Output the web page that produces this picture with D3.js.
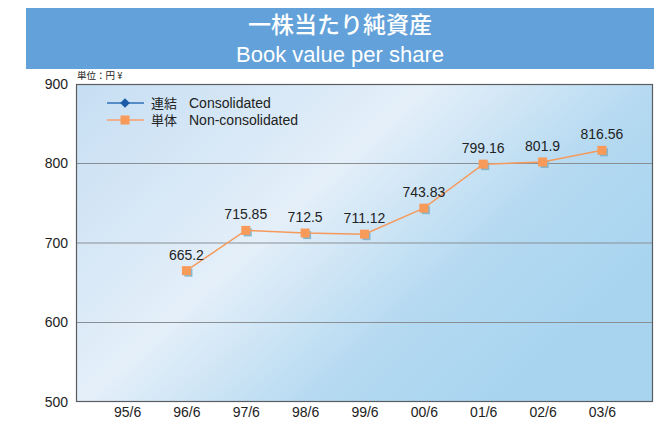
<!DOCTYPE html>
<html lang="ja">
<head>
  <meta charset="UTF-8">
  <title>Book value per share</title>
  <script src="https://cdn.jsdelivr.net/npm/d3@7"></script>
  <style>
    html, body { margin: 0; padding: 0; background: #fff; }
    svg text { font-family: "Liberation Sans", Arial, sans-serif; }
    .jp { font-family: "Noto Sans CJK JP", "Noto Sans", sans-serif; }
  </style>
</head>
<body>
<svg id="chart" width="658" height="422"></svg>
<script>
  // Fiscal years (June) and book value per share (yen)
  const years = ['95/6', '96/6', '97/6', '98/6', '99/6', '00/6', '01/6', '02/6', '03/6'];
  const nonConsolidated = [null, 665.2, 715.85, 712.5, 711.12, 743.83, 799.16, 801.9, 816.56];
  const valueLabels = ['', '665.2', '715.85', '712.5', '711.12', '743.83', '799.16', '801.9', '816.56'];
  const yTicks = [500, 600, 700, 800, 900];

  (() => {
  const svg = d3.select('#chart');
  const plotLeft = 76, plotRight = 653, plotTop = 84, plotBottom = 402;

  // Header band
  svg.append('rect')
    .attr('x', 26).attr('y', 8).attr('width', 628).attr('height', 61)
    .attr('fill', '#62a1d9');
  svg.append('text').attr('class', 'jp')
    .attr('x', 340).attr('y', 33)
    .attr('text-anchor', 'middle').attr('fill', '#fff')
    .attr('font-size', 23).attr('font-weight', 500)
    .text('一株当たり純資産');
  svg.append('text')
    .attr('x', 340).attr('y', 62)
    .attr('text-anchor', 'middle').attr('fill', '#fff')
    .attr('font-size', 22)
    .text('Book value per share');

  // Plot background gradient
  const defs = svg.append('defs');
  const grad = defs.append('linearGradient')
    .attr('id', 'bg')
    .attr('x1', '0%').attr('y1', '0%').attr('x2', '100%').attr('y2', '60%');
  grad.append('stop').attr('offset', '0%').attr('stop-color', '#c6def3');
  grad.append('stop').attr('offset', '45%').attr('stop-color', '#e4eff9');
  grad.append('stop').attr('offset', '75%').attr('stop-color', '#b4d9f1');
  grad.append('stop').attr('offset', '100%').attr('stop-color', '#a8d4f0');

  svg.append('rect')
    .attr('x', plotLeft).attr('y', plotTop)
    .attr('width', plotRight - plotLeft).attr('height', plotBottom - plotTop)
    .attr('fill', 'url(#bg)');

  const x = d3.scalePoint().domain(years).range([plotLeft, plotRight]).padding(0.86);
  const y = d3.scaleLinear().domain([500, 900]).range([plotBottom, plotTop]);

  // Grid lines
  svg.append('g')
    .selectAll('line')
    .data(yTicks.slice(1, -1))
    .join('line')
      .attr('x1', plotLeft).attr('x2', plotRight)
      .attr('y1', d => y(d)).attr('y2', d => y(d))
      .attr('stroke', '#8a8f94').attr('stroke-width', 1);

  // Frame
  svg.append('rect')
    .attr('x', plotLeft + 0.5).attr('y', plotTop + 0.5)
    .attr('width', plotRight - plotLeft - 1).attr('height', plotBottom - plotTop - 1)
    .attr('fill', 'none').attr('stroke', '#5a5e62').attr('stroke-width', 1.2);

  // Axes
  const yAxis = svg.append('g')
    .attr('transform', `translate(${plotLeft},0)`)
    .call(d3.axisLeft(y).tickValues(yTicks).tickSize(0).tickPadding(8));
  yAxis.select('.domain').remove();
  yAxis.selectAll('text').attr('font-size', 14).attr('fill', '#222')
    .attr('font-family', '"Liberation Sans", Arial, sans-serif');

  const xAxis = svg.append('g')
    .attr('transform', `translate(0,${plotBottom})`)
    .call(d3.axisBottom(x).tickSize(0).tickPadding(5));
  xAxis.select('.domain').remove();
  xAxis.selectAll('text').attr('font-size', 14).attr('fill', '#222')
    .attr('font-family', '"Liberation Sans", Arial, sans-serif');

  // Unit note
  svg.append('text').attr('class', 'jp')
    .attr('x', 77).attr('y', 79)
    .attr('font-size', 9.5).attr('fill', '#222')
    .text('単位：円 ¥');

  // Series
  const pts = years.map((k, i) => ({ k, v: nonConsolidated[i], label: valueLabels[i] }))
    .filter(d => d.v !== null);

  // Marker shadows
  svg.append('g')
    .selectAll('rect')
    .data(pts)
    .join('rect')
      .attr('x', d => x(d.k) - 2).attr('y', d => y(d.v) - 2)
      .attr('width', 8).attr('height', 8)
      .attr('fill', '#86b6cc');

  svg.append('path')
    .datum(pts)
    .attr('fill', 'none')
    .attr('stroke', '#f59a5c').attr('stroke-width', 1.5)
    .attr('d', d3.line().x(d => x(d.k)).y(d => y(d.v)));

  svg.append('g')
    .selectAll('rect')
    .data(pts)
    .join('rect')
      .attr('x', d => x(d.k) - 4.5).attr('y', d => y(d.v) - 4.5)
      .attr('width', 9).attr('height', 9)
      .attr('fill', '#f89a5a');

  svg.append('g')
    .selectAll('text')
    .data(pts)
    .join('text')
      .attr('x', d => x(d.k)).attr('y', d => y(d.v) - 11)
      .attr('text-anchor', 'middle')
      .attr('font-size', 14).attr('fill', '#222')
      .text(d => d.label);

  // Legend
  const legend = svg.append('g');
  legend.append('line')
    .attr('x1', 107).attr('x2', 144).attr('y1', 103).attr('y2', 103)
    .attr('stroke', '#2e6fb8').attr('stroke-width', 1.5);
  legend.append('path')
    .attr('d', d3.symbol(d3.symbolDiamond2, 60)())
    .attr('transform', 'translate(125,103)')
    .attr('fill', '#1a5aa8');
  legend.append('line')
    .attr('x1', 107).attr('x2', 144).attr('y1', 120).attr('y2', 120)
    .attr('stroke', '#f7a06a').attr('stroke-width', 1.5);
  legend.append('rect')
    .attr('x', 120.5).attr('y', 115.5).attr('width', 9).attr('height', 9)
    .attr('fill', '#f89a5a');
  legend.append('text').attr('class', 'jp')
    .attr('x', 151).attr('y', 108).attr('font-size', 13).attr('fill', '#222')
    .text('連結');
  legend.append('text')
    .attr('x', 189).attr('y', 108).attr('font-size', 14).attr('fill', '#222')
    .text('Consolidated');
  legend.append('text').attr('class', 'jp')
    .attr('x', 151).attr('y', 125).attr('font-size', 13).attr('fill', '#222')
    .text('単体');
  legend.append('text')
    .attr('x', 189).attr('y', 125).attr('font-size', 14).attr('fill', '#222')
    .text('Non-consolidated');
  })();
</script>
</body>
</html>
